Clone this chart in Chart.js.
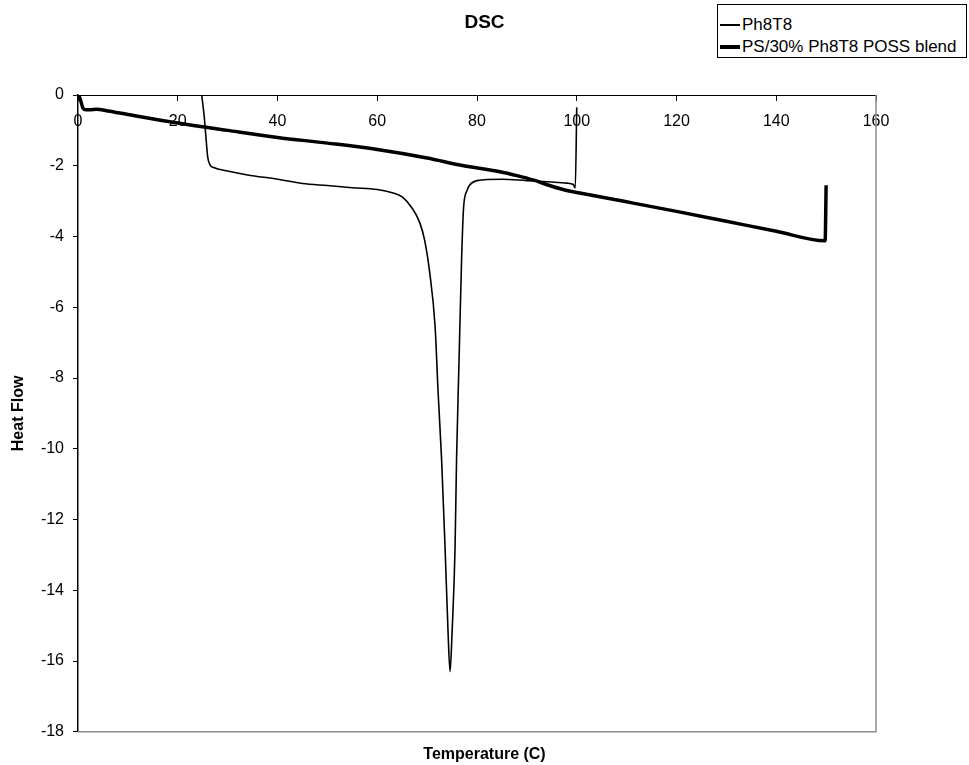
<!DOCTYPE html>
<html>
<head>
<meta charset="utf-8">
<title>DSC</title>
<script src="https://cdn.jsdelivr.net/npm/chart.js@4/dist/chart.umd.min.js"></script>
<style>
  body { margin: 0; background: #fff; }
  #wrap { position: relative; width: 969px; height: 765px; }
  #legend {
    position: absolute; left: 717px; top: 4px; width: 250px; height: 54px;
    border: 1px solid #000; background: #fff; box-sizing: border-box;
    font: 17px "Liberation Sans", Arial, sans-serif; color: #000;
  }
  .row { position: absolute; left: 2px; height: 20px; display: flex; align-items: center; }
  .swatch { width: 20px; background: #000; margin-right: 2px; }
</style>
</head>
<body>
<div id="wrap">
  <canvas id="chart" width="969" height="765"></canvas>
  <div id="legend"></div>
</div>
<script>
// Ph8T8 trace
const ph8t8Temp = [24.8, 25.3, 25.6, 26.0, 26.5, 27.2, 30, 34, 40, 45, 50, 55, 60, 63, 65, 67, 68.5, 69.5, 70.5,
  71.6, 72.2, 72.9, 73.6, 74.2, 74.6, 75.0, 75.6, 75.9, 76.4, 76.9, 77.3, 78.0, 78.5, 80, 85, 90, 95, 98, 99.3, 99.7, 100]
const ph8t8Flow = [0, -0.6, -1.1, -1.75, -1.98, -2.05, -2.15, -2.26, -2.38, -2.5, -2.56, -2.62, -2.67, -2.76, -2.88, -3.2, -3.6, -4.1, -5.0,
  -6.55, -8.4, -10.3, -12.8, -15.2, -16.3, -15.2, -12.8, -10.3, -7.5, -4.7, -3.2, -2.7, -2.55, -2.42, -2.38, -2.42, -2.46, -2.49, -2.53, -2.63, -0.35]

// PS/30% Ph8T8 POSS blend trace
const blendTemp = [0, 0.5, 1, 1.6, 2.4, 3.7, 6, 10, 20, 30, 40, 50, 60, 70, 76.6, 84.6, 88, 91.2, 95, 98, 100.6,
  110, 120, 130, 140, 149.8, 150]
const blendFlow = [0.05, -0.14, -0.37, -0.42, -0.42, -0.40, -0.45, -0.55, -0.79, -1.0, -1.2, -1.36, -1.54, -1.78, -1.98, -2.17, -2.28, -2.4, -2.58, -2.7, -2.77,
  -3.02, -3.29, -3.57, -3.85, -4.12, -2.55]

const seriesNames = ['Ph8T8', 'PS/30% Ph8T8 POSS blend']
const xTicks = { min: 0, max: 160, step: 20 }
const yTicks = { min: -18, max: 0, step: 2 }

const FONT = '"Liberation Sans", Arial, sans-serif'

function toPoints(xs, ys){
  return xs.map((x, i) => ({ x: x, y: ys[i] }))
}

// gray plot-area frame on the right and bottom (Excel style)
const frame = {
  id: 'frame',
  beforeDatasetsDraw(chart){
    const { ctx, chartArea: a } = chart
    ctx.save()
    ctx.strokeStyle = '#8c8c8c'
    ctx.lineWidth = 1.5
    ctx.beginPath()
    ctx.moveTo(a.right, a.top)
    ctx.lineTo(a.right, a.bottom)
    ctx.lineTo(a.left, a.bottom)
    ctx.stroke()
    ctx.restore()
  }
}

const chart = new Chart(document.getElementById('chart'), {
  type: 'line',
  data: {
    datasets: [{
      label: seriesNames[0],
      data: toPoints(ph8t8Temp, ph8t8Flow),
      borderColor: '#000',
      borderWidth: 1.6,
      pointRadius: 0,
      cubicInterpolationMode: 'monotone'
    }, {
      label: seriesNames[1],
      data: toPoints(blendTemp, blendFlow),
      borderColor: '#000',
      borderWidth: 3.5,
      pointRadius: 0,
      cubicInterpolationMode: 'monotone'
    }]
  },
  options: {
    responsive: false,
    animation: false,
    events: [],
    layout: { padding: 0 },
    plugins: {
      legend: { display: false },
      tooltip: { enabled: false },
      title: {
        display: true,
        text: 'DSC',
        color: '#000',
        font: { family: FONT, size: 19, weight: 'bold' },
        padding: { top: 11, bottom: 61.2 }
      },
      subtitle: {
        display: true,
        position: 'bottom',
        text: 'Temperature (C)',
        color: '#000',
        font: { family: FONT, size: 16, weight: 'bold' },
        padding: { top: 13, bottom: 1 }
      }
    },
    scales: {
      x: {
        type: 'linear',
        position: { y: 0 },
        min: xTicks.min,
        max: xTicks.max,
        ticks: { stepSize: xTicks.step, color: '#000', font: { family: FONT, size: 16 }, padding: 12, maxRotation: 0 },
        grid: { display: true, drawOnChartArea: false, drawTicks: true, tickLength: 5, color: '#000' },
        border: { display: true, color: '#000', width: 1 }
      },
      y: {
        type: 'linear',
        position: 'left',
        min: yTicks.min,
        max: yTicks.max,
        ticks: { stepSize: yTicks.step, color: '#000', font: { family: FONT, size: 16 }, padding: 9 },
        grid: { display: true, drawOnChartArea: false, drawTicks: true, tickLength: 5, color: '#000' },
        border: { display: true, color: '#000', width: 1.5 },
        title: {
          display: true,
          text: 'Heat Flow',
          color: '#000',
          font: { family: FONT, size: 16, weight: 'bold' },
          padding: { top: 9, bottom: 0 }
        },
        afterFit(scale){ scale.width = 78 }
      },
      // empty right-hand margin so the title stays centred on the page
      y2: {
        type: 'linear',
        position: 'right',
        display: true,
        ticks: { display: false },
        grid: { display: false },
        border: { display: false },
        afterFit(scale){ scale.width = 93 }
      }
    }
  },
  plugins: [frame]
})

// legend box in the top-right corner, built from the datasets
const legendBox = document.getElementById('legend')
chart.data.datasets.forEach((ds, i) => {
  const row = document.createElement('div')
  row.className = 'row'
  row.style.top = (i === 0 ? 20 : 42) + 'px'
  row.style.transform = 'translateY(-50%)'
  const sw = document.createElement('span')
  sw.className = 'swatch'
  sw.style.height = (i === 0 ? 1.5 : 3.5) + 'px'
  const txt = document.createElement('span')
  txt.innerText = ds.label
  row.append(sw, txt)
  legendBox.append(row)
})
</script>
</body>
</html>
